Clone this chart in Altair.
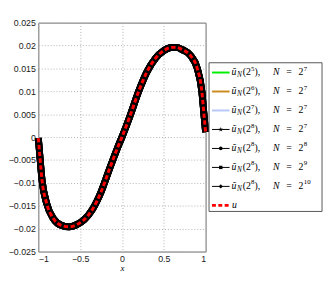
import altair as alt
import pandas as pd

# curve (all approximations coincide with u at this scale)
x_vals = [-1.0, -0.98, -0.955, -0.9, -0.82, -0.72, -0.63, -0.55, -0.45, -0.35, -0.25, -0.15, -0.05,
          0.0, 0.1, 0.2, 0.3, 0.4, 0.5, 0.6, 0.65, 0.72, 0.82, 0.9, 0.955, 0.98, 1.0]
u_vals = [-0.0002, -0.0045, -0.0095, -0.0145, -0.0178, -0.0193, -0.0196, -0.0192, -0.0180, -0.0157, -0.0120, -0.0070, -0.0022,
          0.0, 0.0048, 0.0100, 0.0143, 0.0172, 0.0189, 0.0196, 0.0196, 0.0191, 0.0178, 0.0150, 0.0100, 0.0050, 0.0011]

# legend entries: u~_N(2^g), N = 2^n
grid_exp = ["5", "6", "7", "8", "8", "8", "8"]
n_exp = ["7", "7", "7", "7", "8", "9", "10"]
series_colors = ["#00ee00", "#cc8a1e", "#b8c8f8", "#000000", "#000000", "#000000", "#000000"]
series_widths = [2, 2, 2, 7, 7, 7, 7]

y_ticks = [-0.025, -0.02, -0.015, -0.01, -0.005, 0, 0.005, 0.01, 0.015, 0.02, 0.025]
x_ticks = [-1, -0.5, 0, 0.5, 1]

STAR = ("M0,-1L0.2245,-0.309L0.951,-0.309L0.363,0.118L0.588,0.809L0,0.382"
        "L-0.588,0.809L-0.363,0.118L-0.951,-0.309L-0.2245,-0.309Z")

W, H = 171, 234
XD, YD = [-1, 1], [-0.025, 0.025]
L0 = W + 3  # legend box left, in view pixels


def px2x(p):
    return XD[0] + (XD[1] - XD[0]) * p / W


def py2y_expr(pexpr):
    return f"{YD[1]} - {YD[1] - YD[0]} * ({pexpr}) / {H}"


curve = pd.DataFrame({"x": x_vals, "y": u_vals})

xaxis = alt.Axis(values=x_ticks, format="~g", title="x",
                 titleFont="Liberation Serif", titleFontStyle="italic",
                 titleFontWeight="normal", titleFontSize=9, titlePadding=0)
yaxis = alt.Axis(values=y_ticks, format="~g", title=None)
xs = alt.Scale(domain=XD, nice=False)
ys = alt.Scale(domain=YD, nice=False)


def X(f):
    return alt.X(f + ":Q", scale=xs, axis=xaxis)


def Y(f):
    return alt.Y(f + ":Q", scale=ys, axis=yaxis)


layers = []
for i in range(len(series_colors)):
    layers.append(
        alt.Chart(curve).mark_line(color=series_colors[i], strokeWidth=series_widths[i],
                                   interpolate="monotone")
        .encode(x=X("x"), y=Y("y"))
    )
layers.append(
    alt.Chart(curve).mark_line(color="#ff0000", strokeWidth=3, strokeDash=[4.5, 2.5],
                               interpolate="monotone")
    .encode(x=X("x"), y=Y("y"))
)

# ---- legend, drawn through the same scales outside the plot area ----
rows = list(range(8))
leg = pd.DataFrame({"row": rows, "gexp": grid_exp + [""], "nexp": n_exp + [""]})
row_y = py2y_expr("51 + datum.row * 19.4")

box = alt.Chart(leg).transform_filter("datum.row == 0").transform_calculate(
    bx0=f"{px2x(L0 + 0.5)}", bx1=f"{px2x(L0 + 116)}",
    by0=py2y_expr("41"), by1=py2y_expr("193")
).mark_rect(fill="white", stroke="#555555", strokeWidth=1).encode(
    x=X("bx0"), x2=alt.X2("bx1"), y=Y("by0"), y2=alt.Y2("by1"))
layers.append(box)

seg = pd.DataFrame({"row": [r for r in rows for _ in range(2)], "end": [0, 1] * len(rows)})
seg_base = alt.Chart(seg).transform_calculate(
    sx=f"{px2x(L0 + 3.5)} + datum.end * {px2x(L0 + 21.5) - px2x(L0 + 3.5)}",
    sy=row_y)
for i in range(3):
    layers.append(seg_base.transform_filter(f"datum.row == {i}").mark_line(
        color=series_colors[i], strokeWidth=2).encode(x=X("sx"), y=Y("sy"), detail="row:N"))
layers.append(seg_base.transform_filter("datum.row >= 3 && datum.row < 7").mark_line(
    color="black", strokeWidth=1).encode(x=X("sx"), y=Y("sy"), detail="row:N"))
layers.append(seg_base.transform_filter("datum.row == 7").mark_line(
    color="#ff0000", strokeWidth=3, strokeDash=[4, 2.5]).encode(x=X("sx"), y=Y("sy"), detail="row:N"))

for i, (shp, sz) in zip(range(3, 7), [(STAR, 26), ("circle", 14), ("square", 12), ("diamond", 18)]):
    layers.append(
        alt.Chart(leg).transform_filter(f"datum.row == {i}").transform_calculate(
            mx=f"{px2x(L0 + 12.5)}", my=row_y
        ).mark_point(shape=shp, size=sz, filled=True, color="black", opacity=1).encode(
            x=X("mx"), y=Y("my")))

serif = "Liberation Serif"


def txt(content, xpos, size=10, italic=False, dy=0, filt="datum.row < 7", field=False):
    m = alt.Chart(leg).transform_filter(filt).transform_calculate(
        tx=f"{px2x(L0 + xpos)}", ty=row_y
    ).mark_text(align="left", baseline="middle", font=serif, fontSize=size,
                fontStyle="italic" if italic else "normal", dy=dy, color="black")
    t = alt.Text(content + ":N") if field else alt.value(content)
    return m.encode(x=X("tx"), y=Y("ty"), text=t)


layers += [
    txt("ũ", 23.5, italic=True),
    txt("N", 29.0, size=7.5, italic=True, dy=3),
    txt("(2", 35.0),
    txt("gexp", 43.3, size=7, dy=-4, field=True),
    txt("),", 47.0),
    txt("N", 66.0, italic=True),
    txt("=", 79.5),
    txt("2", 92.0),
    txt("nexp", 97.3, size=7, dy=-4, field=True),
    txt("u", 24.0, italic=True, filt="datum.row == 7"),
]

chart = alt.layer(*layers).properties(
    width=W, height=H, padding={"left": 0, "top": 8, "right": 0, "bottom": 0}
).configure_axis(
    grid=True, gridDash=[1, 2], gridColor="#b0b0b0", ticks=False, domain=False,
    labelFont="Liberation Sans", labelFontSize=9, labelColor="#1a1a1a", labelPadding=3,
).configure_view(stroke="#6a6a6a")

chart.save("out.html", embed_options={"renderer": "svg", "actions": False})
